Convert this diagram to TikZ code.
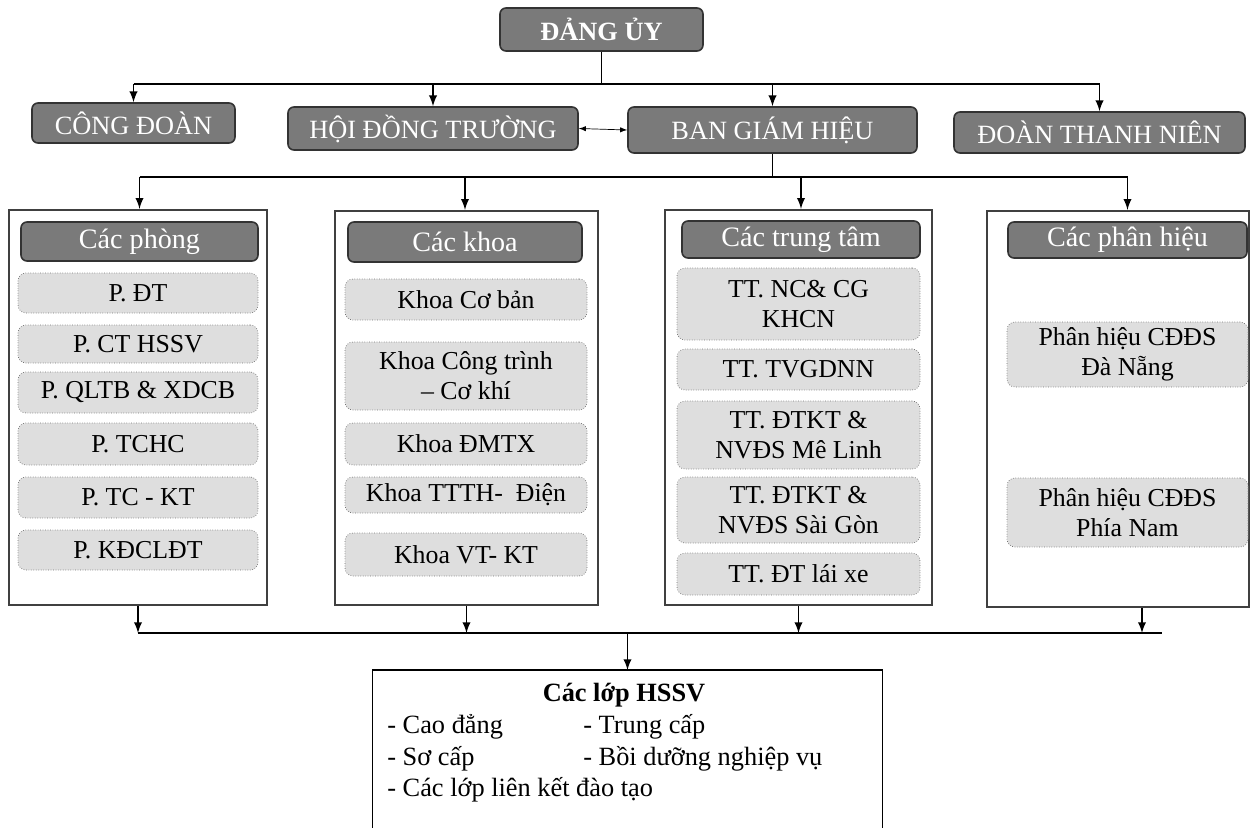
\documentclass[tikz,border=0pt]{standalone}
\usepackage{fontspec}
\setmainfont{Liberation Serif}
\usetikzlibrary{calc, positioning}
\newlength\pxu
\setlength\pxu{0.02cm}

\begin{document}
\begin{tikzpicture}[>=latex, x=0.02cm, y=-0.02cm,
    lanhdao/.style={draw=black!80, fill=black!52, line width=0.9pt, rounded corners=6\pxu,
        text=white, inner sep=0pt, font=\fontsize{15}{18}\selectfont},
    tieude/.style={lanhdao, font=\fontsize{16}{19}\selectfont},
    donvi/.style={draw=black!55, densely dotted, fill=black!13, rounded corners=8\pxu,
        inner sep=0pt, align=center, font=\fontsize{14.7}{17}\selectfont},
    khung/.style={draw=black!75, line width=1.3pt, inner sep=0pt},
    noi/.style={line width=1.1pt},
    dsach/.style={anchor=west, inner sep=0pt, font=\fontsize{15}{18}\selectfont}]

    \useasboundingbox (0,0) rectangle (1252,828);

    % 1. Các khối lãnh đạo
    \node[lanhdao, font=\fontsize{15}{18}\selectfont\bfseries, minimum width=203\pxu, minimum height=43\pxu] (dangy) at (601.5,29.5) {ĐẢNG ỦY};
    \node[lanhdao, minimum width=203\pxu, minimum height=40\pxu] (congdoan) at (133.5,123) {CÔNG ĐOÀN};
    \node[lanhdao, minimum width=290\pxu, minimum height=43\pxu] (hdt) at (433,128.5) {HỘI ĐỒNG TRƯỜNG};
    \node[lanhdao, minimum width=289\pxu, minimum height=46\pxu] (bgh) at (772.5,130) {BAN GIÁM HIỆU};
    \node[lanhdao, minimum width=291\pxu, minimum height=41\pxu] (dtn) at (1099.5,132.5) {ĐOÀN THANH NIÊN};

    % Đường nối từ Đảng ủy xuống
    \coordinate (bus1) at (0,84);
    \draw[noi] (dangy.south) -- (dangy.south |- bus1);
    \draw[noi] (congdoan.north |- bus1) -- (dtn.north |- bus1);
    \foreach \n in {congdoan, hdt, bgh, dtn}
        \draw[noi, ->] (\n.north |- bus1) -- (\n.north);
    \draw[<->, thin] (hdt.east) -- (bgh.west);

    % 2. Các khung đơn vị
    \node[khung, minimum width=258\pxu, minimum height=395\pxu] (phong) at (138,407.5) {};
    \node[khung, minimum width=263\pxu, minimum height=394\pxu] (khoa) at (466.5,408) {};
    \node[khung, minimum width=267\pxu, minimum height=395\pxu] (trungtam) at (798.5,407.5) {};
    \node[khung, minimum width=262\pxu, minimum height=396\pxu] (phanhieu) at (1118,409) {};

    \node[tieude, minimum width=237\pxu, minimum height=39\pxu] (hdphong) at (139.5,241.5) {Các phòng};
    \node[tieude, minimum width=234\pxu, minimum height=40\pxu] (hdkhoa) at (465,242) {Các khoa};
    \node[tieude, minimum width=238\pxu, minimum height=37\pxu] (hdtrungtam) at (801,239.5) {Các trung tâm};
    \node[tieude, minimum width=239\pxu, minimum height=36\pxu] (hdphanhieu) at (1127.5,240) {Các phân hiệu};

    % Đường nối từ Ban giám hiệu xuống
    \coordinate (bus2) at (0,177);
    \draw[noi] (bgh.south) -- (bgh.south |- bus2);
    \draw[noi] (hdphong |- bus2) -- (hdphanhieu |- bus2);
    \foreach \n/\h in {phong/hdphong, khoa/hdkhoa, trungtam/hdtrungtam, phanhieu/hdphanhieu}
        \draw[noi, ->] (\h |- bus2) -- (\h |- \n.north);

    % Các phòng
    \node[donvi, minimum width=240\pxu, minimum height=40\pxu] (p1) at (138,293) {P. ĐT};
    \node[donvi, minimum width=240\pxu, minimum height=38\pxu] (p2) at (138,344) {P. CT HSSV};
    \node[donvi, minimum width=240\pxu, minimum height=41\pxu] (p3) at (138,392.5) {P. QLTB \& XDCB};
    \node[donvi, minimum width=240\pxu, minimum height=42\pxu] (p4) at (138,444) {P. TCHC};
    \node[donvi, minimum width=240\pxu, minimum height=41\pxu] (p5) at (138,497.5) {P. TC - KT};
    \node[donvi, minimum width=240\pxu, minimum height=40\pxu] (p6) at (138,550) {P. KĐCLĐT};

    % Các khoa
    \node[donvi, minimum width=242\pxu, minimum height=41\pxu] (k1) at (466,299.5) {Khoa Cơ bản};
    \node[donvi, minimum width=242\pxu, minimum height=68\pxu] (k2) at (466,376) {Khoa Công trình\\ – Cơ khí};
    \node[donvi, minimum width=242\pxu, minimum height=42\pxu] (k3) at (466,444) {Khoa ĐMTX};
    \node[donvi, minimum width=242\pxu, minimum height=36\pxu] (k4) at (466,495) {Khoa TTTH-\ \ Điện};
    \node[donvi, minimum width=242\pxu, minimum height=43\pxu] (k5) at (466,554.5) {Khoa VT- KT};

    % Các trung tâm
    \node[donvi, minimum width=243\pxu, minimum height=72\pxu] (t1) at (798.5,304) {TT. NC\& CG\\ KHCN};
    \node[donvi, minimum width=243\pxu, minimum height=41\pxu] (t2) at (798.5,369.5) {TT. TVGDNN};
    \node[donvi, minimum width=243\pxu, minimum height=68\pxu] (t3) at (798.5,435) {TT. ĐTKT \&\\ NVĐS Mê Linh};
    \node[donvi, minimum width=243\pxu, minimum height=66\pxu] (t4) at (798.5,510) {TT. ĐTKT \&\\ NVĐS Sài Gòn};
    \node[donvi, minimum width=243\pxu, minimum height=42\pxu] (t5) at (798.5,574) {TT. ĐT lái xe};

    % Các phân hiệu
    \node[donvi, minimum width=241\pxu, minimum height=65\pxu] (ph1) at (1127.5,354.5) {Phân hiệu CĐĐS\\ Đà Nẵng};
    \node[donvi, minimum width=241\pxu, minimum height=69\pxu] (ph2) at (1127.5,512.5) {Phân hiệu CĐĐS\\ Phía Nam};

    % 3. Nối xuống các lớp HSSV
    \coordinate (bus3) at (1162,633);
    \coordinate (phday) at ($(phanhieu.south)+(24,0)$);
    \draw[noi] (phong.south |- bus3) -- (bus3);
    \foreach \n in {phong, khoa, trungtam}
        \draw[noi, ->] (\n.south) -- (\n.south |- bus3);
    \draw[noi, ->] (phday) -- (phday |- bus3);

    \node[anchor=north, inner sep=0pt, minimum width=509\pxu, minimum height=158\pxu] (hssv) at (627.5,670) {};
    \draw[noi, ->] (hssv.north |- bus3) -- (hssv.north);
    \draw[line width=0.8pt] (hssv.south west) -- (hssv.north west) -- (hssv.north east) -- (hssv.south east);

    \node[font=\fontsize{15}{18}\selectfont\bfseries] (hssvten) at (624,695) {Các lớp HSSV};
    \node[dsach] (l1) at (387,727) {- Cao đẳng};
    \node[dsach] (l2) at (583,727) {- Trung cấp};
    \node[dsach] (l3) at (387,759) {- Sơ cấp};
    \node[dsach] (l4) at (583,759) {- Bồi dưỡng nghiệp vụ};
    \node[dsach] (l5) at (387,790) {- Các lớp liên kết đào tạo};
\end{tikzpicture}
\end{document}
